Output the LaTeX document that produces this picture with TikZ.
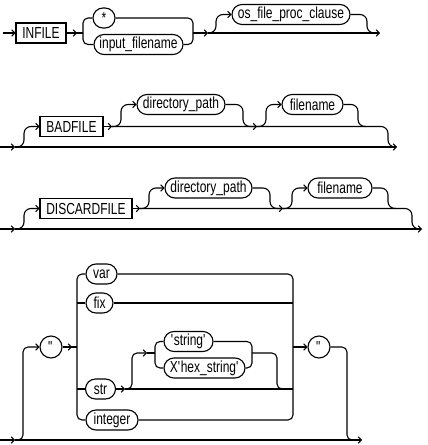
\documentclass[tikz,border=0pt]{standalone}
\usepackage{fontspec}
\setmainfont{Liberation Sans}[FakeStretch=0.75]
\usetikzlibrary{arrows.meta}
\begin{document}
\begin{tikzpicture}[x=1pt,y=-1pt,line width=1.1pt,
  >={Straight Barb[length=3pt,width=6.5pt]},
  every node/.style={font=\fontsize{16}{18}\selectfont},
  kw/.style={draw,rectangle,minimum height=20pt,inner sep=0pt},
  ov/.style={draw,rectangle,rounded corners=10pt,minimum height=20pt,inner sep=0pt},
  ci/.style={draw,circle,minimum size=22pt,inner sep=0pt},
  br/.style={rounded corners=5pt},
  sb/.style={rounded corners=7pt}
]
\useasboundingbox (0,0) rectangle (428,445);

% ---------- row 1 ----------
\node[kw,minimum width=50pt] (infile) at (41,33) {INFILE};
\node[ov,minimum width=22pt] (star) at (104,18) {*};
\node[ov,minimum width=89pt] (inp) at (138.5,44.5) {input\_filename};
\node[ov,minimum width=118pt] (osf) at (291,14.5) {os\_file\_proc\_clause};
\coordinate (r1s) at (3,33);
\coordinate (a1) at (77,33);
\coordinate (b1l) at (83,33);
\coordinate (b1r) at (193,33);
\coordinate (j1) at (208,33);
\coordinate (e1) at (380,33);
\coordinate (u1) at (216,14.5);
\coordinate (d1) at (367,33);
\coordinate (m1) at (375,33);
\draw[->] (r1s) -- (infile.west);
\draw (infile.east) -- (b1l);
\draw[->] (infile.east) -- (a1);
\draw[br] (star.west) -- (star.west -| b1l) -- (inp.west -| b1l) -- (inp.west);
\draw[br] (star.east) -- (star.east -| b1r) -- (inp.east -| b1r) -- (inp.east);
\draw[->] (b1r) -- (j1);
\draw[->] (j1) -- (e1);
\draw[sb,->] (j1) -| (u1) -- (osf.west);
\draw[sb] (osf.east) -| (d1) -- (m1);

% ---------- row 2 ----------
\node[kw,minimum width=63pt] (bad) at (71.5,126.5) {BADFILE};
\node[ov,minimum width=88pt] (dir1) at (181,104.5) {directory\_path};
\node[ov,minimum width=61pt] (fn1) at (312.5,104.5) {filename};
\coordinate (s2) at (0,147);
\coordinate (j2) at (15,147);
\coordinate (e2) at (397,147);
\coordinate (u2) at (24,126.5);
\coordinate (k2) at (112,126.5);
\coordinate (v2) at (121,104.5);
\coordinate (p2) at (243,126.5);
\coordinate (k2b) at (257,126.5);
\coordinate (w2) at (266,104.5);
\coordinate (g2) at (358,126.5);
\coordinate (g2b) at (366,126.5);
\coordinate (h2) at (388,147);
\coordinate (i2) at (395,147);
\draw[->] (s2) -- (j2);
\draw[->] (j2) -- (e2);
\draw[sb,->] (j2) -| (u2) -- (bad.west);
\draw[->] (bad.east) -- (k2);
\draw[sb] (k2) -| (h2) -- (i2);
\draw[sb,->] (k2) -| (v2) -- (dir1.west);
\draw[sb,->] (dir1.east) -| (p2) -- (k2b);
\draw[sb,->] (k2b) -| (w2) -- (fn1.west);
\draw[sb] (fn1.east) -| (g2) -- (g2b);

% ---------- row 3 ----------
\node[kw,minimum width=92pt] (disc) at (86,208.5) {DISCARDFILE};
\node[ov,minimum width=87pt] (dir2) at (208.5,188) {directory\_path};
\node[ov,minimum width=64pt] (fn2) at (340,188) {filename};
\coordinate (s3) at (0,229);
\coordinate (j3) at (15,229);
\coordinate (e3) at (422,229);
\coordinate (u3) at (24,208.5);
\coordinate (k3) at (140,208.5);
\coordinate (v3) at (149,188);
\coordinate (p3) at (270,208.5);
\coordinate (k3b) at (283,208.5);
\coordinate (w3) at (292,188);
\coordinate (g3) at (388,208.5);
\coordinate (g3b) at (396,208.5);
\coordinate (h3) at (412,229);
\coordinate (i3) at (420,229);
\draw[->] (s3) -- (j3);
\draw[->] (j3) -- (e3);
\draw[sb,->] (j3) -| (u3) -- (disc.west);
\draw[->] (disc.east) -- (k3);
\draw[sb] (k3) -| (h3) -- (i3);
\draw[sb,->] (k3) -| (v3) -- (dir2.west);
\draw[sb,->] (dir2.east) -| (p3) -- (k3b);
\draw[sb,->] (k3b) -| (w3) -- (fn2.west);
\draw[sb] (fn2.east) -| (g3) -- (g3b);

% ---------- row 4 ----------
\node[ci] (qa) at (51,347) {\textquotedbl};
\node[ci] (qb) at (319,347) {\textquotedbl};
\node[ov,minimum width=31pt] (var) at (101.5,274) {var};
\node[ov,minimum width=27pt] (fix) at (99.5,303) {fix};
\node[ov,minimum width=30pt] (str) at (100.5,389) {str};
\node[ov,minimum width=52pt] (int) at (112,420) {integer};
\node[ov,minimum width=49pt] (sstr) at (188.5,341.5) {\textquotesingle string\textquotesingle};
\node[ov,minimum width=81pt] (hex) at (204.5,368) {X\textquotesingle hex\_string\textquotesingle};
\coordinate (s4) at (0,440);
\coordinate (j4) at (15,440);
\coordinate (e4) at (362,440);
\coordinate (c4) at (23,440);
\coordinate (c4t) at (23,347);
\coordinate (a4) at (72,347);
\coordinate (bl) at (77,347);
\coordinate (br4) at (293,347);
\coordinate (k4) at (125,389);
\coordinate (t4b) at (132,353);
\coordinate (a4b) at (147,353);
\coordinate (sl) at (155,353);
\coordinate (sr) at (252,353);
\coordinate (sy) at (277,389);
\coordinate (sz) at (287,389);
\coordinate (o4b) at (347,440);
\coordinate (o4c) at (357,440);
\draw[->] (s4) -- (j4);
\draw[->] (j4) -- (e4);
\draw[br,->] (j4) -- (c4) -- (c4t) -- (qa.west);
\draw (qa.east) -- (bl);
\draw[->] (qa.east) -- (a4);
\draw[br] (var.west) -- (var.west -| bl) -- (int.west -| bl) -- (int.west);
\draw (fix.west -| bl) -- (fix.west);
\draw (str.west -| bl) -- (str.west);
\draw[br] (var.east) -- (var.east -| br4) -- (int.east -| br4) -- (int.east);
\draw (fix.east) -- (fix.east -| br4);
\draw[->] (str.east) -- (k4);
\draw (k4) -- (str.east -| br4);
\draw[br,->] (k4) -| (t4b) -- (a4b);
\draw (a4b) -- (sl);
\draw[br] (sstr.west) -- (sstr.west -| sl) -- (hex.west -| sl) -- (hex.west);
\draw[br] (sstr.east) -- (sstr.east -| sr) -- (hex.east -| sr) -- (hex.east);
\draw[br] (sr) -| (sy) -- (sz);
\draw[->] (br4) -- (qb.west);
\draw[br] (qb.east) -| (o4b) -- (o4c);
\end{tikzpicture}
\end{document}
